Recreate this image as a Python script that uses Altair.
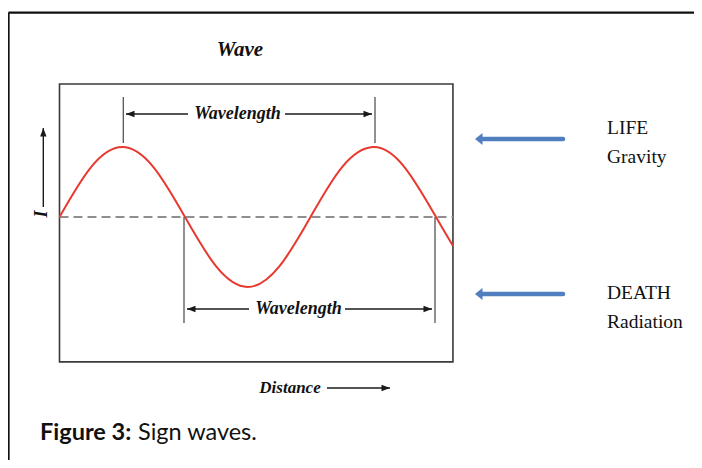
import altair as alt
import pandas as pd

# ---- coordinate units: x in quarter-wavelengths, y in wave amplitudes ----
X_DOMAIN = [-0.8207, 10.1116]
Y_DOMAIN = [-3.4714, 2.9857]

# sine wave (quarter-wavelength steps)
wave_u = [0, 0.5, 1, 1.5, 2, 2.5, 3, 3.5, 4, 4.5, 5, 5.5, 6, 6.27]
wave_v = [0, 0.71, 1, 0.71, 0, -0.71, -1, -0.71, 0, 0.71, 1, 0.71, 0, -0.41]

# plot box
box_u = [0, 6.27]
box_v = [-2.07, 1.9]

# outer figure frame (top edge and left edge)
frame_u = [-0.812, -0.812]
frame_u2 = [10.1116, -0.812]
frame_v = [2.92, 2.92]
frame_v2 = [2.92, -3.4714]

# wavelength guide lines
guide_u = [1.017, 5.028, 1.984, 5.984]
guide_v = [1.057, 1.057, 0.0, 0.0]
guide_v2 = [1.714, 1.714, -1.514, -1.514]

# black arrow shafts
shaft_u = [1.06, 3.594, 2.032, 4.55, 4.263, -0.258]
shaft_u2 = [2.048, 4.98, 3.02, 5.936, 5.267, -0.258]
shaft_v = [1.471, 1.471, -1.314, -1.314, -2.443, 0.143]
shaft_v2 = [1.471, 1.471, -1.314, -1.314, -2.443, 1.271]

# black arrow heads (tip position, pointing direction angle)
head_u = [1.06, 4.98, 2.032, 5.936, 5.267, -0.258]
head_v = [1.471, 1.471, -1.314, -1.314, -2.443, 1.271]
head_angle = [0, 180, 0, 180, 180, 90]

# blue arrows
blue_u = [6.70, 6.70]
blue_u2 = [8.024, 8.024]
blue_v = [1.114, -1.10]
blue_tip_u = [6.6215, 6.6215]

# diagram labels
lab_text = ["Wave", "Wavelength", "Wavelength", "Distance", "I"]
lab_u = [2.8765, 2.8367, 3.8088, 3.6733, -0.279]
lab_v = [2.386, 1.471, -1.314, -2.443, 0.043]
lab_size = [21, 18, 18, 17, 18]
lab_angle = [0, 0, 0, 0, 270]

# side labels
side_text = ["LIFE", "Gravity", "DEATH", "Radiation"]
side_u = [8.7251, 8.7251, 8.7251, 8.7251]
side_v = [1.271, 0.857, -1.086, -1.50]

# caption
cap_bold = "Figure 3:"
cap_rest = "Sign waves."
cap_u = [-0.3108, 1.251]
cap_v = -3.086

xs = alt.Scale(domain=X_DOMAIN, nice=False, zero=False)
ys = alt.Scale(domain=Y_DOMAIN, nice=False, zero=False)


def X(f="u"):
    return alt.X(f"{f}:Q", scale=xs, axis=None)


def Y(f="v"):
    return alt.Y(f"{f}:Q", scale=ys, axis=None)


frame_df = pd.DataFrame({"u": frame_u, "u2": frame_u2, "v": frame_v, "v2": frame_v2})
frame = alt.Chart(frame_df).mark_rule(color="#111111", strokeWidth=2.2).encode(
    x=X(), x2="u2:Q", y=Y(), y2="v2:Q")

box_df = pd.DataFrame({"u": [box_u[0]], "u2": [box_u[1]], "v": [box_v[0]], "v2": [box_v[1]]})
box = alt.Chart(box_df).mark_rect(filled=False, stroke="#3a3a3a", strokeWidth=1.6).encode(
    x=X(), x2="u2:Q", y=Y(), y2="v2:Q")

mid_df = pd.DataFrame({"u": [box_u[0]], "u2": [box_u[1]], "v": [0.0]})
mid = alt.Chart(mid_df).mark_rule(color="#8f8f8f", strokeWidth=2, strokeDash=[9, 5]).encode(
    x=X(), x2="u2:Q", y=Y())

wave_df = pd.DataFrame({"u": wave_u, "v": wave_v})
wave = alt.Chart(wave_df).mark_line(color="#e8392f", strokeWidth=2, interpolate="natural").encode(
    x=X(), y=Y())

guide_df = pd.DataFrame({"u": guide_u, "v": guide_v, "v2": guide_v2})
guides = alt.Chart(guide_df).mark_rule(color="#555555", strokeWidth=1.3).encode(
    x=X(), y=Y(), y2="v2:Q")

shaft_df = pd.DataFrame({"u": shaft_u, "u2": shaft_u2, "v": shaft_v, "v2": shaft_v2})
shafts = alt.Chart(shaft_df).mark_rule(color="#1a1a1a", strokeWidth=1.4).encode(
    x=X(), x2="u2:Q", y=Y(), y2="v2:Q")

head_df = pd.DataFrame({"u": head_u, "v": head_v, "a": head_angle})
heads = alt.Chart(head_df).mark_point(
    shape="M0,0 L2,-0.75 L2,0.75 Z", filled=True, color="#1a1a1a", opacity=1, size=72,
    strokeWidth=0).encode(x=X(), y=Y(), angle=alt.Angle("a:Q", scale=None))

blue_df = pd.DataFrame({"u": blue_u, "u2": blue_u2, "v": blue_v})
blue = alt.Chart(blue_df).mark_rule(color="#4f7fbf", strokeWidth=4.5, strokeCap="round").encode(
    x=X(), x2="u2:Q", y=Y())

bhead_df = pd.DataFrame({"u": blue_tip_u, "v": blue_v})
bheads = alt.Chart(bhead_df).mark_point(
    shape="M0,0 L1.5,-1.2 L1.5,-0.35 L1.5,0.35 L1.5,1.2 Z", filled=True, color="#4f7fbf",
    opacity=1, size=100, strokeWidth=0).encode(x=X(), y=Y())

lab_df = pd.DataFrame({"t": lab_text, "u": lab_u, "v": lab_v, "s": lab_size, "a": lab_angle})
labels = alt.Chart(lab_df).mark_text(
    font="Liberation Serif", fontStyle="italic", fontWeight="bold", color="#111111",
    align="center", baseline="middle").encode(
    x=X(), y=Y(), text="t:N", size=alt.Size("s:Q", scale=None),
    angle=alt.Angle("a:Q", scale=None))

side_df = pd.DataFrame({"t": side_text, "u": side_u, "v": side_v})
side = alt.Chart(side_df).mark_text(
    font="Liberation Serif", fontSize=19.5, color="#111111", align="left",
    baseline="middle").encode(x=X(), y=Y(), text="t:N")

cap_df = pd.DataFrame({"t": [cap_bold, cap_rest], "u": cap_u, "v": [cap_v, cap_v]})
cap1 = alt.Chart(cap_df.iloc[[0]]).mark_text(
    font="Lato", fontSize=23.5, fontWeight="bold", color="#111111", align="left",
    baseline="middle").encode(x=X(), y=Y(), text="t:N")
cap2 = alt.Chart(cap_df.iloc[[1]]).mark_text(
    font="Lato", fontSize=23.5, color="#111111", align="left",
    baseline="middle").encode(x=X(), y=Y(), text="t:N")

chart = alt.layer(
    frame, box, mid, wave, guides, shafts, heads, blue, bheads, labels, side, cap1, cap2
).properties(
    width=686, height=452, padding=0, autosize=alt.AutoSizeParams(type="none"),
    background="white"
).configure_view(stroke=None)

chart.save("out.html", embed_options={"renderer": "svg", "actions": False})
